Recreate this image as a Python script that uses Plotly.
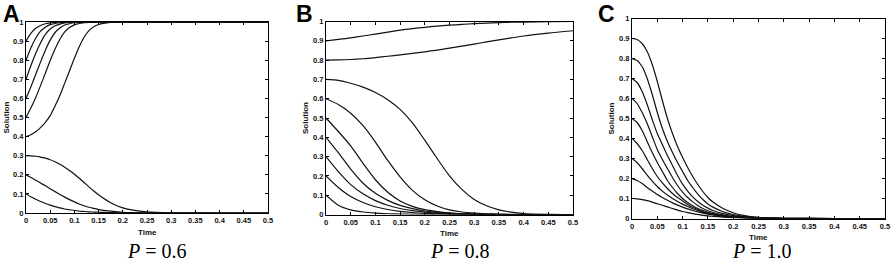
import plotly.graph_objects as go

W, H = 892, 262

# ---------------- data ----------------
A_T = [0, 0.01, 0.02, 0.03, 0.04, 0.05, 0.06, 0.07, 0.08, 0.09, 0.10, 0.11, 0.12,
       0.13, 0.14, 0.15, 0.16, 0.18, 0.20, 0.25, 0.30, 0.40, 0.50]
A_090 = [0.90, 0.94, 0.967, 0.982, 0.991, 0.995, 0.998, 0.999] + [1] * 15
A_080 = [0.80, 0.864, 0.915, 0.952, 0.973, 0.986, 0.992, 0.996, 0.998, 0.999] + [1] * 13
A_070 = [0.70, 0.771, 0.835, 0.89, 0.935, 0.963, 0.98, 0.989, 0.995, 0.998, 0.999] + [1] * 12
A_060 = [0.60, 0.66, 0.725, 0.79, 0.852, 0.905, 0.945, 0.969, 0.984, 0.991, 0.996,
         0.998, 0.999] + [1] * 10
A_050 = [0.50, 0.55, 0.604, 0.667, 0.732, 0.798, 0.858, 0.91, 0.948, 0.971, 0.985,
         0.992, 0.996, 0.998, 0.999, 1, 1, 1, 1, 1, 1, 1, 1]
A_040 = [0.400, 0.410, 0.425, 0.447, 0.475, 0.510, 0.560, 0.615, 0.680, 0.745, 0.810,
         0.870, 0.920, 0.955, 0.975, 0.987, 0.993, 0.999, 1, 1, 1, 1, 1]
A_030 = [0.30, 0.299, 0.297, 0.293, 0.287, 0.279, 0.268, 0.255, 0.24, 0.222, 0.203,
         0.182, 0.16, 0.137, 0.115, 0.095, 0.077, 0.047, 0.027, 0.006, 0.001, 0, 0]
A_020 = [0.2, 0.186, 0.172, 0.157, 0.143, 0.127, 0.112, 0.097, 0.083, 0.07, 0.058,
         0.047, 0.038, 0.03, 0.024, 0.018, 0.014, 0.008, 0.004, 0.001, 0, 0, 0]
A_010 = [0.1, 0.085, 0.072, 0.06, 0.05, 0.041, 0.033, 0.027, 0.021, 0.017, 0.013,
         0.01, 0.008, 0.006, 0.005, 0.004, 0.003, 0.002, 0.001, 0, 0, 0, 0]

B_T = [0, 0.025, 0.05, 0.075, 0.1, 0.125, 0.15, 0.175, 0.2, 0.225, 0.25, 0.275,
       0.3, 0.325, 0.35, 0.375, 0.4, 0.45, 0.5]
B_090 = [0.90, 0.907, 0.915, 0.925, 0.935, 0.945, 0.955, 0.963, 0.97, 0.976, 0.981,
         0.985, 0.989, 0.992, 0.994, 0.996, 0.997, 0.999, 1.0]
B_080 = [0.80, 0.801, 0.803, 0.807, 0.813, 0.82, 0.827, 0.835, 0.843, 0.852, 0.862,
         0.872, 0.883, 0.894, 0.905, 0.915, 0.925, 0.94, 0.952]
B_070 = [0.70, 0.695, 0.68, 0.66, 0.632, 0.595, 0.545, 0.475, 0.385, 0.29, 0.2,
         0.13, 0.078, 0.045, 0.024, 0.012, 0.005, 0.001, 0]
B_060 = [0.60, 0.57, 0.525, 0.46, 0.375, 0.28, 0.195, 0.125, 0.076, 0.044, 0.024,
         0.013, 0.007, 0.004, 0.002, 0.001, 0, 0, 0]
B_050 = [0.5, 0.43, 0.355, 0.265, 0.18, 0.115, 0.07, 0.042, 0.025, 0.015, 0.008,
         0.004, 0.002, 0.001, 0, 0, 0, 0, 0]
B_040 = [0.4, 0.32, 0.235, 0.162, 0.11, 0.073, 0.047, 0.03, 0.018, 0.011, 0.006,
         0.003, 0.002, 0.001, 0, 0, 0, 0, 0]
B_030 = [0.3, 0.222, 0.155, 0.107, 0.072, 0.048, 0.031, 0.02, 0.012, 0.007, 0.004,
         0.002, 0.001, 0, 0, 0, 0, 0, 0]
B_020 = [0.2, 0.14, 0.093, 0.062, 0.04, 0.026, 0.016, 0.01, 0.006, 0.004, 0.002,
         0.001, 0, 0, 0, 0, 0, 0, 0]
B_010 = [0.1, 0.048, 0.024, 0.013, 0.007, 0.004, 0.002, 0.001, 0, 0, 0, 0, 0, 0,
         0, 0, 0, 0, 0]

C_T = [0, 0.01, 0.02, 0.03, 0.04, 0.05, 0.06, 0.07, 0.08, 0.09, 0.10, 0.11, 0.12,
       0.13, 0.14, 0.15, 0.16, 0.18, 0.20, 0.22, 0.25, 0.3, 0.4, 0.5]
C_090 = [0.90, 0.895, 0.875, 0.835, 0.77, 0.685, 0.59, 0.5, 0.425, 0.36, 0.305, 0.255,
         0.21, 0.17, 0.135, 0.105, 0.082, 0.05, 0.029, 0.016, 0.006, 0.001, 0, 0]
C_080 = [0.80, 0.79, 0.76, 0.70, 0.62, 0.53, 0.45, 0.385, 0.33, 0.28, 0.235, 0.19,
         0.155, 0.122, 0.095, 0.073, 0.057, 0.034, 0.02, 0.011, 0.004, 0.001, 0, 0]
C_070 = [0.70, 0.68, 0.635, 0.57, 0.495, 0.425, 0.37, 0.315, 0.265, 0.215, 0.172, 0.137,
         0.108, 0.085, 0.066, 0.052, 0.04, 0.024, 0.014, 0.008, 0.003, 0.001, 0, 0]
C_060 = [0.60, 0.575, 0.53, 0.475, 0.41, 0.345, 0.295, 0.25, 0.205, 0.165, 0.132, 0.105,
         0.083, 0.065, 0.05, 0.039, 0.03, 0.018, 0.01, 0.006, 0.002, 0, 0, 0]
C_050 = [0.50, 0.48, 0.44, 0.385, 0.33, 0.28, 0.235, 0.19, 0.155, 0.125, 0.10, 0.08,
         0.064, 0.05, 0.04, 0.031, 0.024, 0.014, 0.008, 0.005, 0.002, 0, 0, 0]
C_040 = [0.40, 0.375, 0.34, 0.295, 0.25, 0.21, 0.178, 0.15, 0.125, 0.105, 0.088, 0.07,
         0.056, 0.045, 0.035, 0.027, 0.021, 0.012, 0.007, 0.004, 0.001, 0, 0, 0]
C_030 = [0.30, 0.28, 0.25, 0.217, 0.187, 0.16, 0.137, 0.117, 0.1, 0.085, 0.072, 0.06,
         0.049, 0.04, 0.032, 0.025, 0.02, 0.012, 0.007, 0.004, 0.001, 0, 0, 0]
C_020 = [0.20, 0.19, 0.175, 0.155, 0.137, 0.12, 0.105, 0.091, 0.078, 0.067, 0.057, 0.048,
         0.04, 0.033, 0.027, 0.022, 0.018, 0.011, 0.007, 0.004, 0.001, 0, 0, 0]
C_010 = [0.10, 0.098, 0.094, 0.089, 0.082, 0.074, 0.066, 0.058, 0.05, 0.042, 0.035, 0.029,
         0.024, 0.02, 0.016, 0.013, 0.011, 0.007, 0.004, 0.002, 0.001, 0, 0, 0]

PANEL_LETTERS = ["A", "B", "C"]
PANEL_P = ["0.6", "0.8", "1.0"]
PANEL_T = [A_T, B_T, C_T]
PANEL_CURVES = [
    [A_090, A_080, A_070, A_060, A_050, A_040, A_030, A_020, A_010],
    [B_090, B_080, B_070, B_060, B_050, B_040, B_030, B_020, B_010],
    [C_090, C_080, C_070, C_060, C_050, C_040, C_030, C_020, C_010],
]

X_TICKS = [0, 0.05, 0.1, 0.15, 0.2, 0.25, 0.3, 0.35, 0.4, 0.45, 0.5]
X_TICKTEXT = ["0", "0.05", "0.1", "0.15", "0.2", "0.25", "0.3", "0.35", "0.4", "0.45", "0.5"]
Y_TICKS = [0, 0.1, 0.2, 0.3, 0.4, 0.5, 0.6, 0.7, 0.8, 0.9, 1]
Y_TICKTEXT = ["0", "0.1", "0.2", "0.3", "0.4", "0.5", "0.6", "0.7", "0.8", "0.9", "1"]

# ---------------- layout geometry (pixels) ----------------
# (left, right, top, bottom) of each plot box
BOXES = [(26, 268, 22, 213), (326, 573, 21.5, 214.5), (632, 885, 18.5, 218.5)]
LETTER_X = [1, 294, 596]
YTITLE_X = [6, 305, 611]
CAPTION_X = [157, 460, 762]


def px(x):
    return x / W


def py(y):
    return 1 - y / H


SANS = "Liberation Sans, Arial, sans-serif"
fig = go.Figure()
annotations = []
tick_font = dict(family=SANS, size=7.5, color="#111", weight="bold")

for i in range(3):
    n = "" if i == 0 else str(i + 1)
    l, r, t, b = BOXES[i]
    for c in PANEL_CURVES[i]:
        fig.add_trace(go.Scatter(
            x=PANEL_T[i], y=c, mode="lines", xaxis="x" + n, yaxis="y" + n,
            line=dict(color="#111", width=1.2, shape="spline", smoothing=0.6),
            showlegend=False, hoverinfo="skip"))
    common = dict(ticks="inside", ticklen=3, tickcolor="#000", showline=True,
                  linecolor="#000", linewidth=1, mirror="ticks", showgrid=False,
                  zeroline=False, tickfont=tick_font, automargin=False)
    fig.layout["xaxis" + n] = dict(
        domain=[px(l), px(r)], range=[0, 0.5], anchor="y" + n,
        tickvals=X_TICKS, ticktext=X_TICKTEXT, **common)
    fig.layout["yaxis" + n] = dict(
        domain=[py(b), py(t)], range=[0, 1], anchor="x" + n,
        tickvals=Y_TICKS, ticktext=Y_TICKTEXT, **common)

    annotations.append(dict(
        text="<b>%s</b>" % PANEL_LETTERS[i], x=px(LETTER_X[i]), y=py(-1),
        xref="paper", yref="paper", xanchor="left", yanchor="top", showarrow=False,
        font=dict(family=SANS, size=23, color="#000")))
    annotations.append(dict(
        text="<b>Solution</b>", x=px(YTITLE_X[i]), y=py((t + b) / 2), xref="paper",
        yref="paper", xanchor="center", yanchor="middle", textangle=-90, showarrow=False,
        font=dict(family=SANS, size=8, color="#111")))
    annotations.append(dict(
        text="<b>Time</b>", x=px((l + r) / 2), y=py(b + 19), xref="paper", yref="paper",
        xanchor="center", yanchor="middle", showarrow=False,
        font=dict(family=SANS, size=8, color="#111")))
    annotations.append(dict(
        text="<i>P</i> = " + PANEL_P[i], x=px(CAPTION_X[i]), y=py(251),
        xref="paper", yref="paper", xanchor="center", yanchor="middle", showarrow=False,
        font=dict(family="Liberation Serif, Times New Roman, serif", size=20, color="#000")))

fig.update_layout(
    width=W, height=H, margin=dict(l=0, r=0, t=0, b=0),
    paper_bgcolor="white", plot_bgcolor="white",
    annotations=annotations, showlegend=False)

fig.write_html(
    "out.html",
    config={"displayModeBar": False},
    post_script="document.body.style.margin='0';document.body.style.overflow='hidden';")
